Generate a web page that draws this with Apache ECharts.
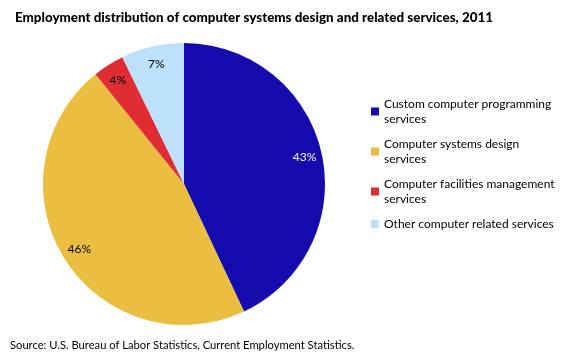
<!DOCTYPE html>
<html><head><meta charset="utf-8">
<script src="https://cdn.jsdelivr.net/npm/echarts@6/dist/echarts.min.js"></script>
<style>html,body{margin:0;padding:0;background:#fff}#c{width:580px;height:363px}</style>
</head><body><div id="c"></div>
<script>
const categories = ["Custom computer programming services","Computer systems design services","Computer facilities management services","Other computer related services"];
const legendLabels = ["Custom computer programming\nservices","Computer systems design\nservices","Computer facilities management\nservices","Other computer related services"];
const values = [43.0, 46.2, 3.6, 7.2];
const shownPercent = [43, 46, 4, 7];
const colors = ["#140AAE","#EBBD41","#E02D34","#BDE0FB"];
const labelColors = ["#ffffff","#000000","#000000","#000000"];
const FONT = "Lato";

const chart = echarts.init(document.getElementById('c'));
const data = categories.map((n,i)=>({name:n, value:values[i], itemStyle:{color:colors[i]}}));
chart.setOption({
  animation:false,
  title:{text:"Employment distribution of computer systems design and related services, 2011",
    left:10, top:6, textStyle:{fontFamily:FONT, fontWeight:900, fontSize:13.4, color:'#000'}},
  graphic:[{type:'text', left:10, top:340, style:{text:"Source: U.S. Bureau of Labor Statistics, Current Employment Statistics.", fontFamily:FONT, fontSize:11.2, fill:'#000'}}],
  legend:{orient:'vertical', left:366, top:84, itemWidth:8, itemHeight:8, itemGap:-5, icon:'rect',
    selectedMode:false,
    formatter:n=>legendLabels[categories.indexOf(n)],
    textStyle:{fontFamily:FONT, fontSize:12, color:'#000', lineHeight:15},
    data:categories.map((n,i)=>({name:n, textStyle:i<3?{padding:[15,0,0,0]}:{padding:[7.5,0,7.5,0]} }))},
  series:[
    {type:'pie', center:[184,184], radius:[0,141], startAngle:90, clockwise:true, data:data,
     label:{show:false}, labelLine:{show:false}, silent:true},
    {type:'pie', center:[184,184], radius:[100,141], startAngle:90, clockwise:true, silent:true,
     data:categories.map((n,i)=>({name:n, value:values[i], itemStyle:{color:'rgba(0,0,0,0)'},
       label:{color:labelColors[i]}})),
     label:{show:true, position:'inside', fontFamily:FONT, fontSize:12,
       formatter:p=>shownPercent[p.dataIndex]+'%'}, labelLine:{show:false}}
  ]
});
</script></body></html>
